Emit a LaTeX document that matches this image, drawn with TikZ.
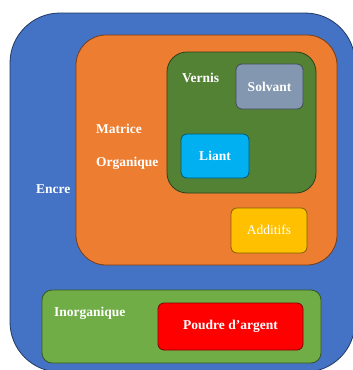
\documentclass[tikz,border=0pt]{standalone}
\usepackage{fontspec}
\setmainfont{Liberation Serif}
\definecolor{cblue}{HTML}{4472C4}
\definecolor{corange}{HTML}{ED7D31}
\definecolor{cdgreen}{HTML}{548235}
\definecolor{cgrey}{HTML}{8497B0}
\definecolor{ccyan}{HTML}{00B0F0}
\definecolor{cgold}{HTML}{FFC000}
\definecolor{clgreen}{HTML}{70AD47}
\definecolor{cred}{HTML}{FF0000}
\begin{document}
\begin{tikzpicture}[x=1pt,y=-1pt,
  box/.style={draw=#1!50!black, fill=#1, line width=0.8pt},
  lbl/.style={text=white, font=\fontsize{13.5}{15}\selectfont\bfseries, inner sep=0pt},
  lblr/.style={text=white, font=\fontsize{13.5}{15}\selectfont, inner sep=0pt}]
\useasboundingbox (0,0) rectangle (353,370);
\fill[white] (0,0) rectangle (353,370);
% outer blue
\draw[box=cblue, rounded corners=50pt] (10,13) rectangle (355,372);
% orange
\draw[box=corange, rounded corners=30pt] (76,35) rectangle (337,265);
% dark green
\draw[box=cdgreen, rounded corners=20pt] (167,52) rectangle (316,193);
% Solvant
\draw[box=cgrey, rounded corners=6pt] (236,64) rectangle (303,109);
\node[lbl] (solvant) at (269.5,86.5) {Solvant};
% Liant
\draw[box=ccyan, rounded corners=6pt] (181,134) rectangle (249,178);
\node[lbl] (liant) at (215,156) {Liant};
% Additifs
\draw[box=cgold, rounded corners=6pt] (231,208) rectangle (307,253);
\node[lblr] (additifs) at (269,230) {Additifs};
% Inorganique
\draw[box=clgreen, rounded corners=10pt] (42,290) rectangle (321,363);
% Poudre
\draw[box=cred, rounded corners=6pt] (158,303) rectangle (303,350);
\node[lbl] (poudre) at (230.5,326.5) {Poudre d’argent};
% labels
\node[lbl, anchor=west] (vernis) at (182,78) {Vernis};
\node[lbl, anchor=west] (matrice) at (96,129) {Matrice};
\node[lbl, anchor=west] (organique) at (96,163) {Organique};
\node[lbl, anchor=west] (encre) at (36,189) {Encre};
\node[lbl, anchor=west] (inorg) at (54,313) {Inorganique};
\end{tikzpicture}
\end{document}
